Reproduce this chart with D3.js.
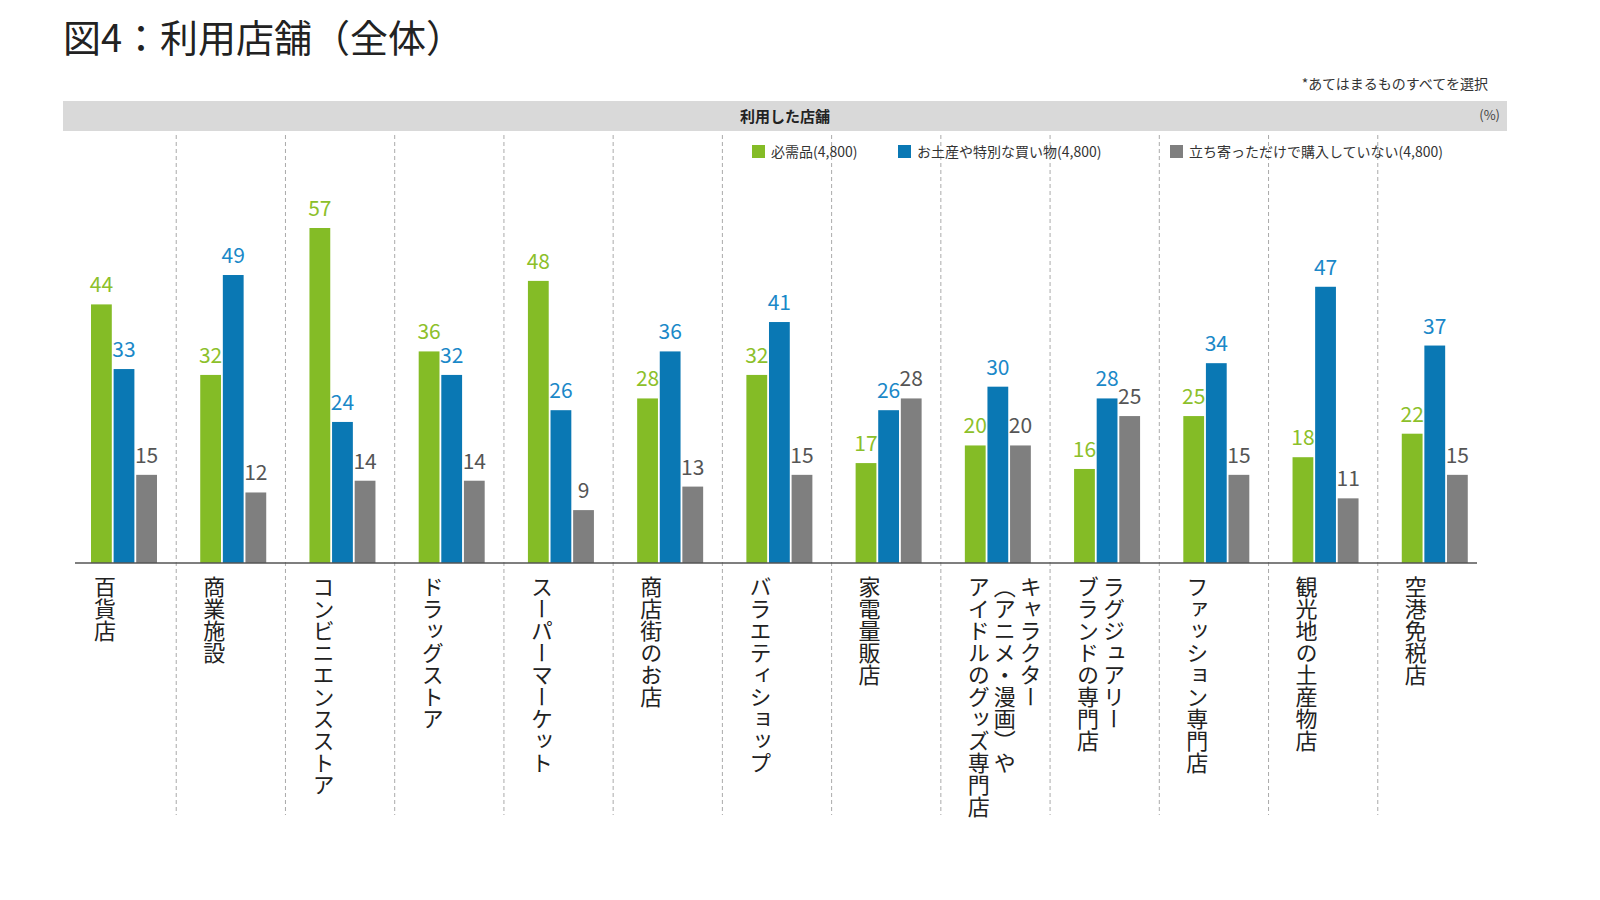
<!DOCTYPE html>
<html><head><meta charset="utf-8">
<script src="https://cdn.jsdelivr.net/npm/d3@7"></script>
<style>html,body{margin:0;overflow:hidden;background:#fff;font-family:"Noto Sans CJK JP",sans-serif}svg{display:block}</style>
</head><body>
<svg id="c" width="1600" height="900"></svg>
<script>
const categories = [["百貨店"],["商業施設"],["コンビニエンスストア"],["ドラッグストア"],["スーパーマーケット"],["商店街のお店"],["バラエティショップ"],["家電量販店"],["キャラクター","（アニメ・漫画）や","アイドルのグッズ専門店"],["ラグジュアリー","ブランドの専門店"],["ファッション専門店"],["観光地の土産物店"],["空港免税店"]];
const necessities = [44,32,57,36,48,28,32,17,20,16,25,18,22];
const souvenirs = [33,49,24,32,26,36,41,26,30,28,34,47,37];
const noPurchase = [15,12,14,14,9,13,15,28,20,25,15,11,15];
const seriesNames = ["必需品(4,800)","お土産や特別な買い物(4,800)","立ち寄っただけで購入していない(4,800)"];
const barColors = ["#84bc26","#0a78b4","#7f7f7f"];
const labelColors = ["#8cc02a","#1a88c8","#555"];

const svg = d3.select("#c");
const base = 563;
const x = d3.scaleBand().domain(d3.range(categories.length)).range([67,1487]);
const y = d3.scaleLinear().domain([0,57]).range([base,228]);
const inner = d3.scaleBand().domain([0,1,2]).range([24,90]).paddingInner(0.08);

// title
svg.append("text").attr("x",63).attr("y",52).attr("font-size",38).attr("fill","#222").text("図4：利用店舗（全体）");
svg.append("text").attr("x",1488).attr("y",89).attr("text-anchor","end").attr("font-size",14).attr("fill","#333").text("*あてはまるものすべてを選択");
svg.append("rect").attr("x",63).attr("y",101).attr("width",1444).attr("height",30).attr("fill","#d9d9d9");
svg.append("text").attr("x",785).attr("y",122).attr("text-anchor","middle").attr("font-size",15).attr("font-weight","bold").attr("fill","#222").text("利用した店舗");
svg.append("text").attr("x",1500).attr("y",120).attr("text-anchor","end").attr("font-size",13).attr("fill","#444").text("(%)");

// dividers
for (let i = 1; i < categories.length; i++) {
  svg.append("line").attr("x1",x(i)).attr("x2",x(i)).attr("y1",135).attr("y2",815)
    .attr("stroke","#aaa").attr("stroke-dasharray","4,3");
}

// legend
const legX = [752,898,1170];
seriesNames.forEach((n,i) => {
  svg.append("rect").attr("x",legX[i]).attr("y",145).attr("width",13).attr("height",13).attr("fill",barColors[i]);
  svg.append("text").attr("x",legX[i]+19).attr("y",157).attr("font-size",14).attr("fill","#333").text(n);
});

const series = [necessities, souvenirs, noPurchase];
series.forEach((vals,s) => {
  const g = svg.append("g");
  g.selectAll("rect").data(vals).join("rect")
    .attr("x",(d,i)=>x(i)+inner(s)).attr("y",d=>y(d))
    .attr("width",inner.bandwidth()).attr("height",d=>base-y(d)).attr("fill",barColors[s]);
  g.selectAll("text").data(vals).join("text")
    .attr("x",(d,i)=>x(i)+inner(s)+inner.bandwidth()/2).attr("y",d=>y(d)-12)
    .attr("text-anchor","middle").attr("font-size",21).attr("fill",labelColors[s]).text(d=>d);
});

svg.append("line").attr("x1",75).attr("x2",1477).attr("y1",base).attr("y2",base).attr("stroke","#555").attr("stroke-width",1.5);

// vertical category labels
categories.forEach((lines,i) => {
  const right = x(i) + inner(0) + 14 + (lines.length-1)*26;
  lines.forEach((t,j) => {
    svg.append("text").attr("x",right - j*26).attr("y",576)
      .style("writing-mode","vertical-rl").attr("font-size",22).attr("fill","#222").text(t);
  });
});
</script>
</body></html>
